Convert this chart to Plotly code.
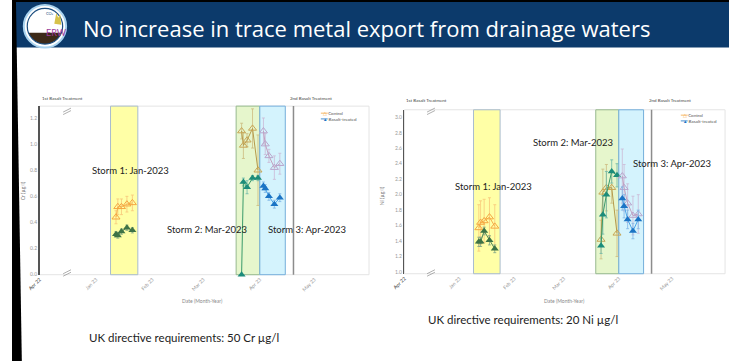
import numpy as np
import plotly.graph_objects as go

# ---------------- data ----------------
storm1_dates = ["2023-01-12", "2023-01-13", "2023-01-15", "2023-01-18", "2023-01-21"]
storm2_dates = ["2023-03-22", "2023-03-23", "2023-03-25", "2023-03-28", "2023-03-31"]
storm3_dates = ["2023-04-03", "2023-04-04", "2023-04-06", "2023-04-09", "2023-04-12"]

storm_periods = [("2023-01-09", "2023-01-24"), ("2023-03-19", "2023-04-01"), ("2023-04-01", "2023-04-15")]
second_treatment_date = "2023-04-19 12:00"

tick_dates = ["2022-12-01", "2023-01-01", "2023-02-01", "2023-03-01", "2023-04-01", "2023-05-01"]
tick_labels = ["Apr 22", "Jan 23", "Feb 23", "Mar 23", "Apr 23", "May 23"]

cr_ticks = [0.0, 0.2, 0.4, 0.6, 0.8, 1.0, 1.2]
ni_ticks = [1.0, 1.2, 1.4, 1.6, 1.8, 2.0, 2.2, 2.4, 2.6, 2.8, 3.0]

# Cr (left chart)
cr_ctrl_s1 = [0.44, 0.52, 0.52, 0.54, 0.55]
cr_ctrl_s1_err = [0.05, 0.06, 0.06, 0.06, 0.06]
cr_bas_s1 = [0.31, 0.30, 0.33, 0.36, 0.34]
cr_bas_s1_err = [0.02, 0.02, 0.02, 0.02, 0.02]
cr_ctrl_s2 = [1.10, 0.99, 1.03, 1.12, 0.80]
cr_ctrl_s2_err = [0.06, 0.10, 0.05, 0.15, 0.27]
cr_bas_s2 = [0.00, 0.71, 0.67, 0.74, 0.74]
cr_bas_s2_err = [0.00, 0.03, 0.05, 0.02, 0.02]
cr_ctrl_s3 = [1.10, 1.00, 0.91, 0.82, 0.85]
cr_ctrl_s3_err = [0.10, 0.08, 0.05, 0.09, 0.08]
cr_bas_s3 = [0.68, 0.66, 0.60, 0.54, 0.59]
cr_bas_s3_err = [0.03, 0.03, 0.03, 0.03, 0.03]

# Ni (right chart)
ni_ctrl_s1 = [1.57, 1.64, 1.66, 1.71, 1.59]
ni_ctrl_s1_err = [0.30, 0.28, 0.28, 0.25, 0.28]
ni_bas_s1 = [1.39, 1.39, 1.53, 1.41, 1.30]
ni_bas_s1_err = [0.06, 0.06, 0.05, 0.06, 0.05]
ni_ctrl_s2 = [1.42, 2.03, 2.09, 2.09, 1.50]
ni_ctrl_s2_err = [0.25, 0.30, 0.30, 0.20, 0.30]
ni_bas_s2 = [1.34, 1.74, 2.00, 2.30, 2.25]
ni_bas_s2_err = [0.10, 0.25, 0.30, 0.15, 0.15]
ni_ctrl_s3 = [2.24, 2.09, 1.89, 1.73, 1.75]
ni_ctrl_s3_err = [0.35, 0.30, 0.25, 0.25, 0.25]
ni_bas_s3 = [1.95, 1.85, 1.68, 1.53, 1.68]
ni_bas_s3_err = [0.15, 0.15, 0.12, 0.10, 0.12]

title_text = "No increase in trace metal export from drainage waters"

# ---------------- style ----------------
W, H = 729, 364
def px(x): return x / W
def py(y): return 1 - y / H

ctrl_marker = ["#F5A742", "#C8A656", "#B9A6CC"]
ctrl_line = ["#F6B14E", "#B59A4A", "#C3A0BE"]
ctrl_err = ["#F8C77A", "#CDBB80", "#CBB9D6"]
bas_marker = ["#3E7346", "#1C8C7A", "#1B74C5"]
bas_line = ["#4E8356", "#3A9A6A", "#4AA3E8"]
bas_err = ["#7FA386", "#6BB8A8", "#7DB5E6"]
band_fill = ["#FFFFA6", "#E6F6CC", "#D4F3FD"]
band_line = ["#A9BCCF", "#97B98F", "#74AEDB"]

fig = go.Figure()

def add_storm(dates, ctrl, ctrl_e, bas, bas_e, i, xa, ya):
    fig.add_trace(go.Scatter(
        x=dates, y=ctrl, mode="lines+markers", xaxis=xa, yaxis=ya,
        marker=dict(symbol="triangle-up-open", size=7, color=ctrl_marker[i], line=dict(width=1)),
        line=dict(color=ctrl_line[i], width=1),
        error_y=dict(type="data", array=ctrl_e, color=ctrl_err[i], thickness=0.8, width=1.5),
        cliponaxis=False, showlegend=False))
    fig.add_trace(go.Scatter(
        x=dates, y=bas, mode="lines+markers", xaxis=xa, yaxis=ya,
        marker=dict(symbol="triangle-up", size=7, color=bas_marker[i]),
        line=dict(color=bas_line[i], width=1),
        error_y=dict(type="data", array=bas_e, color=bas_err[i], thickness=0.8, width=1.5),
        cliponaxis=False, showlegend=False))

dates_all = [storm1_dates, storm2_dates, storm3_dates]
cr_sets = [(cr_ctrl_s1, cr_ctrl_s1_err, cr_bas_s1, cr_bas_s1_err),
           (cr_ctrl_s2, cr_ctrl_s2_err, cr_bas_s2, cr_bas_s2_err),
           (cr_ctrl_s3, cr_ctrl_s3_err, cr_bas_s3, cr_bas_s3_err)]
ni_sets = [(ni_ctrl_s1, ni_ctrl_s1_err, ni_bas_s1, ni_bas_s1_err),
           (ni_ctrl_s2, ni_ctrl_s2_err, ni_bas_s2, ni_bas_s2_err),
           (ni_ctrl_s3, ni_ctrl_s3_err, ni_bas_s3, ni_bas_s3_err)]
for i in range(3):
    add_storm(dates_all[i], *cr_sets[i], i, "x", "y")
    add_storm(dates_all[i], *ni_sets[i], i, "x2", "y2")

tick_text_styled = ['<span style="color:#444444">' + tick_labels[0] + '</span>'] + tick_labels[1:]

xrange_ = ["2022-12-01", "2023-05-31"]
xcommon = dict(type="date", range=xrange_, tickvals=tick_dates, ticktext=tick_text_styled,
               tickangle=-45, tickfont=dict(size=5, color="#999999", family="Lato"),
               showgrid=False, zeroline=False, showline=False, ticks="", fixedrange=True)
ycommon = dict(showgrid=False, zeroline=False, showline=True, linecolor="#555555", linewidth=1.5,
               tickfont=dict(size=5, color="#999999", family="Lato"), tickformat=".1f",
               ticks="", fixedrange=True)

fig.update_layout(
    width=W, height=H, margin=dict(l=0, r=0, t=0, b=0), autosize=False,
    paper_bgcolor="white", plot_bgcolor="white", showlegend=False,
    xaxis=dict(domain=[px(28), px(363)], anchor="y", **xcommon),
    yaxis=dict(domain=[py(277), py(107)], range=[0, 1.291], tickvals=cr_ticks, anchor="x", **ycommon),
    xaxis2=dict(domain=[px(399), px(725)], anchor="y2", **xcommon),
    yaxis2=dict(domain=[py(276), py(110.7)], range=[0.978, 3.097], tickvals=ni_ticks, anchor="x2", **ycommon),
)

shapes = []
annos = []
# background decorations
shapes.append(dict(type="rect", xref="paper", yref="paper", x0=0, x1=1, y0=py(48), y1=1,
                   fillcolor="#0c3a6b", line=dict(width=0), layer="below"))
shapes.append(dict(type="rect", xref="paper", yref="paper", x0=0, x1=1, y0=py(2), y1=1,
                   fillcolor="black", line=dict(width=0), layer="below"))
shapes.append(dict(type="path", xref="paper", yref="paper",
                   path=f"M 0 1 L {px(4)} 1 L {px(10)} 0 L 0 0 Z",
                   fillcolor="black", line=dict(width=0), layer="above"))
# logo
cx, cy, r = 33.5, 26.5, 21.5
shapes.append(dict(type="circle", xref="paper", yref="paper", x0=px(cx - r), x1=px(cx + r),
                   y0=py(cy + r), y1=py(cy - r), fillcolor="white", line=dict(color="#a9d3ef", width=2)))
ri = 18
ang = np.linspace(np.arcsin((33 - cy) / ri), np.pi - np.arcsin((33 - cy) / ri), 30)
pts = [(cx + ri * np.cos(a), cy + ri * np.sin(a)) for a in ang]
path = "M " + " L ".join(f"{px(a):.5f} {py(b):.5f}" for a, b in pts) + " Z"
shapes.append(dict(type="path", xref="paper", yref="paper", path=path, fillcolor="#3d2a18", line=dict(width=0)))
shapes.append(dict(type="circle", xref="paper", yref="paper", x0=px(cx - ri), x1=px(cx + ri),
                   y0=py(cy + ri), y1=py(cy - ri), line=dict(color="#1d4f80", width=1.2)))
shapes.append(dict(type="path", xref="paper", yref="paper",
                   path=f"M {px(43)} {py(24)} L {px(45)} {py(13)} L {px(47)} {py(18)} L {px(49)} {py(14)} L {px(50)} {py(25)} Z",
                   fillcolor="#d7c24a", line=dict(width=0)))
annos.append(dict(text="ERW", x=px(33), y=py(25.5), xref="paper", yref="paper", showarrow=False,
                  font=dict(size=9, color="#9b3b9b", family="Lato")))
annos.append(dict(text="CO₂", x=px(33), y=py(9), xref="paper", yref="paper", showarrow=False,
                  font=dict(size=4, color="#1d4f80", family="Lato")))
annos.append(dict(text=title_text, x=px(70), y=py(28), xref="paper", yref="paper", showarrow=False,
                  xanchor="left", yanchor="middle", font=dict(size=22, color="white", family="Open Sans")))

for xa, ya in (("x", "y"), ("x2", "y2")):
    # frame
    shapes.append(dict(type="rect", xref=f"{xa} domain", yref=f"{ya} domain", x0=0, x1=1, y0=0, y1=1,
                       line=dict(color="#e4e4e4", width=1), layer="below"))
    for (d0, d1), fc, lc in zip(storm_periods, band_fill, band_line):
        shapes.append(dict(type="rect", xref=xa, yref=f"{ya} domain", x0=d0, x1=d1, y0=0, y1=1,
                           fillcolor=fc, line=dict(color=lc, width=1), layer="below"))
    shapes.append(dict(type="line", xref=xa, yref=f"{ya} domain", x0=second_treatment_date,
                       x1=second_treatment_date, y0=0, y1=1, line=dict(color="#8c8c8c", width=1.5)))

# axis breaks
for bx, ys in ((52, (111, 274)), (422, (111, 274))):
    for yc in ys:
        for off in (0, 2.5):
            shapes.append(dict(type="line", xref="paper", yref="paper",
                               x0=px(bx), y0=py(yc + 2 + off), x1=px(bx + 8), y1=py(yc - 2 + off),
                               line=dict(color="#9a9a9a", width=0.8)))

def txt(t, x, y, size, color="#333333", angle=0, anchor="center", family="Lato", pad=1):
    annos.append(dict(text=t, x=px(x), y=py(y), xref="paper", yref="paper", showarrow=False,
                      xanchor=anchor, yanchor="middle", textangle=angle, borderpad=pad,
                      font=dict(size=size, color=color, family=family)))

# small chart texts
txt("1st Basalt Treatment", 51, 99, 4.5, "#444444")
txt("2nd Basalt Treatment", 304, 99, 4.5, "#444444")
txt("1st Basalt Treatment", 421, 101.7, 4.5, "#444444")
txt("2nd Basalt Treatment", 669.5, 101.7, 4.5, "#444444")
txt("Cr (µg/l)", 12, 192, 5, "#777777", angle=-90)
txt("Ni (µg/l)", 377, 197, 5, "#777777", angle=-90)
txt("Date (Month-Year)", 194, 304, 5, "#888888")
txt("Date (Month-Year)", 562, 304, 5, "#888888")

# storm labels (data coordinates)
def storm_label(t, xd, yv, xa, ya):
    annos.append(dict(text=t, x=xd, y=yv, xref=xa, yref=ya, showarrow=False,
                      font=dict(size=9.5, color="#222222", family="Lato")))
storm_label("Storm 1: Jan-2023", "2023-01-20", 0.80, "x", "y")
storm_label("Storm 2: Mar-2023", "2023-03-03", 0.344, "x", "y")
storm_label("Storm 3: Apr-2023", "2023-04-27", 0.344, "x", "y")
storm_label("Storm 1: Jan-2023", "2023-01-20", 2.10, "x2", "y2")
storm_label("Storm 2: Mar-2023", "2023-03-06", 2.68, "x2", "y2")
storm_label("Storm 3: Apr-2023", "2023-05-01", 2.40, "x2", "y2")

# legends (manual, one text block each)
legend_text = ('<span style="color:#F5A742">△</span> Control<br>'
               '<span style="color:#1B74C5">▲</span> Basalt-treated')
for lx, ly in ((314, 117), (680, 119)):
    for k, col in enumerate(("#F5A742", "#1B74C5")):
        yy = ly - 2.9 + k * 5.8
        shapes.append(dict(type="line", xref="paper", yref="paper", x0=px(lx), x1=px(lx + 7),
                           y0=py(yy), y1=py(yy), line=dict(color=col, width=0.8)))
    annos.append(dict(text=legend_text, x=px(lx + 1), y=py(ly), xref="paper", yref="paper",
                      showarrow=False, xanchor="left", yanchor="middle", align="left", borderpad=0,
                      font=dict(size=4.5, color="#555555", family="Lato")))

# directive notes
txt("UK directive requirements: 50 Cr µg/l", 175, 340.7, 11.5, "#222222")
txt("UK directive requirements: 20 Ni µg/l", 520, 321.7, 11.5, "#222222")

fig.update_layout(shapes=shapes, annotations=annos)
fig.write_html(
    "out.html",
    config={"displayModeBar": False, "staticPlot": True},
    post_script=(
        "var b=document.body.style;b.margin='0';b.padding='0';b.overflow='hidden';"
        "b.fontSize='0';b.lineHeight='0';b.width='729px';b.height='364px';"
        "document.documentElement.style.overflow='hidden';"
        "var g=document.getElementById('{plot_id}');g.style.display='block';"
    ),
)
